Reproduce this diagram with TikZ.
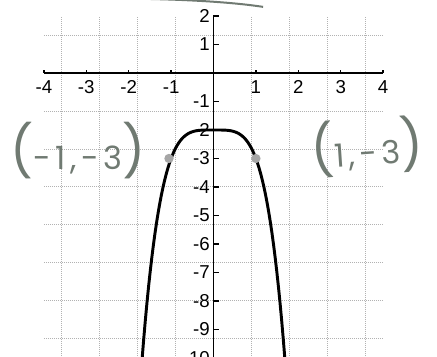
\documentclass[tikz,border=0pt]{standalone}
\usepackage{fontspec}
\setmainfont{Liberation Sans}
\newfontfamily\manofont[LetterSpace=14]{Poppins}
\usetikzlibrary{positioning}
\definecolor{lapiz}{RGB}{112,122,114}
\newcommand{\grande}[1]{{\fontsize{38}{38}\selectfont #1}}
\tikzset{
    rejilla/.style={gray!60, densely dotted, line width=0.5pt},
    eje/.style={black, line width=1pt},
    curva/.style={black, line width=2.2pt},
    punto/.style={
        circle,
        fill=gray!70,
        inner sep=0pt,
        minimum size=7pt
    },
    etiqueta/.style={font=\fontsize{14}{14}\selectfont, inner sep=1pt},
    mano/.style={lapiz, font=\manofont\fontsize{24}{24}\selectfont}
}

\begin{document}
\begin{tikzpicture}[
    x=31.8pt,
    y=21.375pt
]

    \useasboundingbox (-5.035,-9.930) rectangle (5.271,2.561);
    \clip (-5.035,-9.930) rectangle (5.271,2.561);

    % Rejilla
    \draw[rejilla] (-4,-10) grid (4,2);

    % Ejes
    \draw[eje] (-4,0) -- (4,0);
    \draw[eje] (0,-10) -- (0,2);

    \foreach \x in {-4,...,-1,1,2,3,4} {
        \draw[eje] (\x,0) -- ++(0,0.12);
        \node[etiqueta, below] (xl\x) at (\x,-0.2) {\x};
    }
    \foreach \y in {-10,...,-1,1,2} {
        \draw[eje] (0,\y) -- ++(0.12,0);
        \node[etiqueta, left] (yl\y) at (-0.05,\y) {\y};
    }

    % Curva y = -x^4 - 2
    \draw[curva] plot[domain=-1.682:1.682, samples=90]
        (\x, {-2-(\x*\x)*(\x*\x)});

    % Puntos marcados
    \node[punto] (pi) at (-1.05,-3) {};
    \node[punto] (pd) at (1,-3) {};

    % Anotaciones a mano
    \node[mano] (ti) at (-3.2,-2.72)
        {\grande{(}-1,-3\grande{)}};
    \node[mano, rotate=4] (td) at (3.62,-2.58)
        {\grande{(}1,-3\grande{)}};

    \draw[lapiz, line width=1.5pt]
        (-1.6,2.6) .. controls (-0.3,2.56) and (0.6,2.45) .. (1.17,2.32);

\end{tikzpicture}
\end{document}
